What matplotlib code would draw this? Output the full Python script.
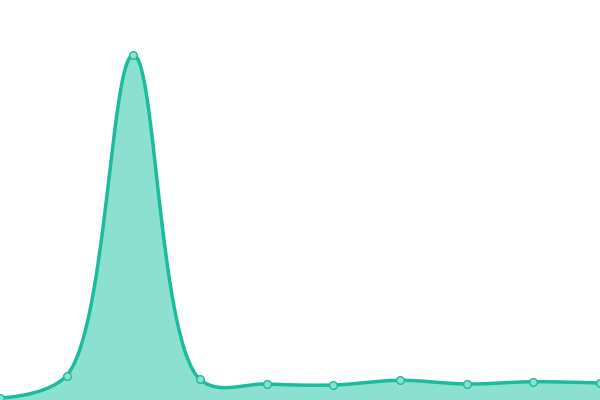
import numpy as np
import matplotlib
matplotlib.use("Agg")
import matplotlib.pyplot as plt

# values (pixel units above the bottom edge)
categories = list(range(10))
values = [2, 24.5, 345, 20.7, 16, 15, 19.7, 16, 18.3, 17]

LINE = "#1abc9c"
FILL = "#8be0cf"

W, H = 600, 400


def catmull_rom(px, py, alpha=0.5, n=60):
    """Centripetal Catmull-Rom as cubic Beziers (screen space)."""
    pts = np.column_stack([px, py]).astype(float)
    pts = np.vstack([pts[0], pts, pts[-1]])
    t = np.linspace(0, 1, n, endpoint=False)[:, None]
    out = []
    for i in range(1, len(pts) - 2):
        p0, p1, p2, p3 = pts[i - 1], pts[i], pts[i + 1], pts[i + 2]
        d01 = np.linalg.norm(p1 - p0)
        d12 = np.linalg.norm(p2 - p1)
        d23 = np.linalg.norm(p3 - p2)
        l01a, l12a, l23a = d01**alpha, d12**alpha, d23**alpha
        l01_2a, l12_2a, l23_2a = d01**(2 * alpha), d12**(2 * alpha), d23**(2 * alpha)
        c1 = p1.copy()
        c2 = p2.copy()
        if l01a > 1e-12:
            a = 2 * l01_2a + 3 * l01a * l12a + l12_2a
            m = 3 * l01a * (l01a + l12a)
            c1 = (p1 * a - p0 * l12_2a + p2 * l01_2a) / m
        if l23a > 1e-12:
            b = 2 * l23_2a + 3 * l23a * l12a + l12_2a
            m = 3 * l23a * (l23a + l12a)
            c2 = (p2 * b + p1 * l23_2a - p3 * l12_2a) / m
        seg = ((1 - t)**3 * p1 + 3 * (1 - t)**2 * t * c1
               + 3 * (1 - t) * t**2 * c2 + t**3 * p2)
        out.append(seg)
    out.append(pts[-2][None, :])
    out = np.vstack(out)
    return out[:, 0], out[:, 1]


xs = np.array(categories, float) * W / (len(categories) - 1)
sx, sy = catmull_rom(xs, values)
sx = sx * (len(categories) - 1) / W

fig = plt.figure(figsize=(6, 4), dpi=100)
ax = fig.add_axes([0, 0, 1, 1])
ax.fill_between(sx, 0, sy, color=FILL, lw=0)
ax.plot(sx, sy, color=LINE, lw=2.5, solid_capstyle="round")
ax.plot(categories, values, "o", ms=5.5, mfc=FILL, mec=LINE, mew=1)
ax.set_xlim(0, 9)
ax.set_ylim(0, H)
ax.axis("off")
fig.savefig("out.png", dpi=100)
